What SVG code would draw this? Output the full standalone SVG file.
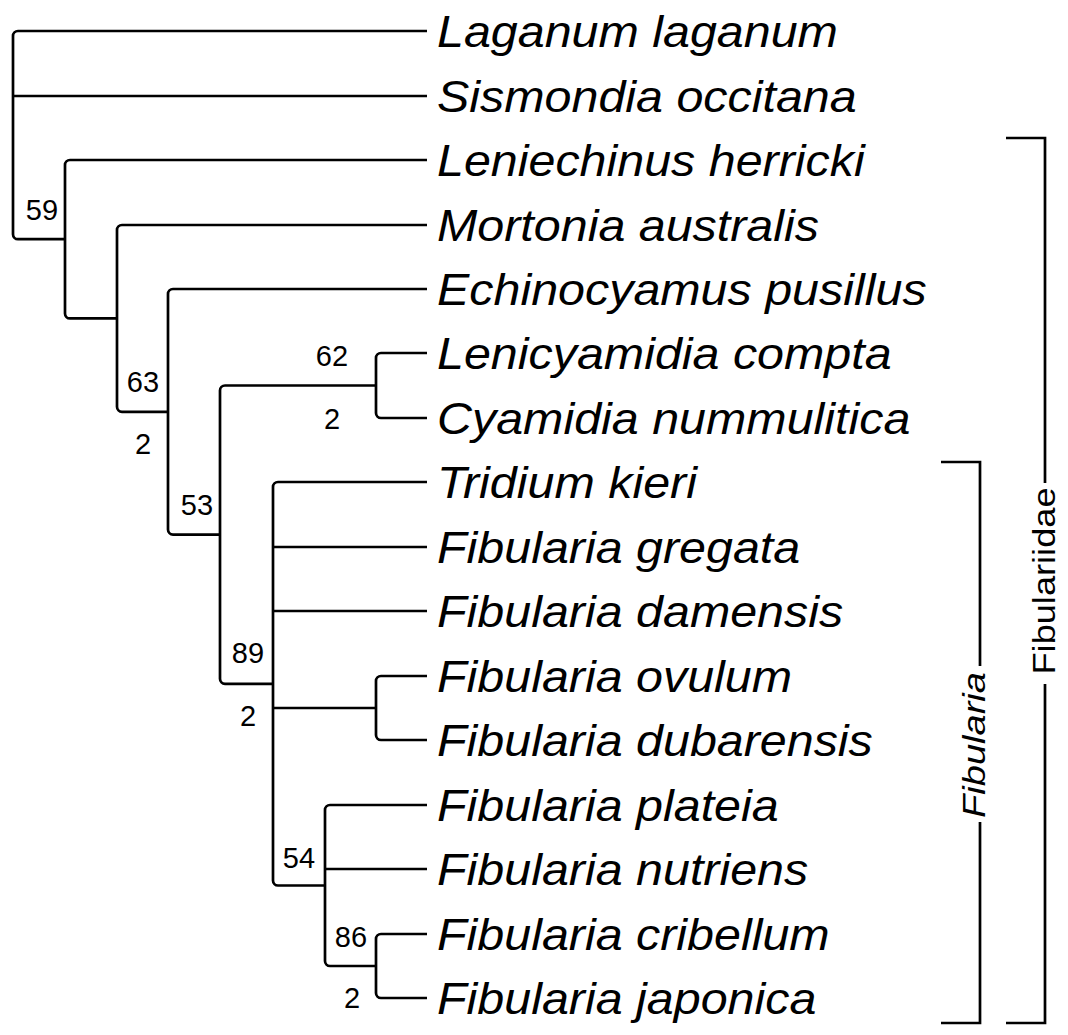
<svg xmlns="http://www.w3.org/2000/svg" width="1068" height="1035" viewBox="0 0 1068 1035">
<style>
.e{fill:none;stroke:#000;stroke-width:2.7;stroke-linecap:butt;stroke-linejoin:round}
.t{font-family:"Liberation Sans",Arial,sans-serif;font-style:italic;font-size:44px;fill:#000}
.n{font-family:"Liberation Sans",Arial,sans-serif;font-size:29px;fill:#000;text-anchor:middle}
.b{fill:none;stroke:#000;stroke-width:2.7}
.bl{font-family:"Liberation Sans",Arial,sans-serif;font-size:32px;fill:#000;text-anchor:middle}
</style>
<rect width="1068" height="1035" fill="#fff"/>
<g id="connectors">
<path class="e" d="M427,31 H18 A5,5 0 0 0 13,36 V234.2 A5,5 0 0 0 18,239.2 H65"/>
<path class="e" d="M13,96 H427"/>
<path class="e" d="M427,160 H70 A5,5 0 0 0 65,165 V313.4 A5,5 0 0 0 70,318.4 H117"/>
<path class="e" d="M427,225 H122 A5,5 0 0 0 117,230 V406.8 A5,5 0 0 0 122,411.8 H168"/>
<path class="e" d="M427,289 H173 A5,5 0 0 0 168,294 V529.6 A5,5 0 0 0 173,534.6 H220"/>
<path class="e" d="M376,385.5 H225 A5,5 0 0 0 220,390.5 V678.8 A5,5 0 0 0 225,683.8 H273"/>
<path class="e" d="M427,353 H381 A5,5 0 0 0 376,358 V413 A5,5 0 0 0 381,418 H427"/>
<path class="e" d="M427,482 H278 A5,5 0 0 0 273,487 V880.5 A5,5 0 0 0 278,885.5 H325"/>
<path class="e" d="M273,547 H427"/>
<path class="e" d="M273,611 H427"/>
<path class="e" d="M273,708 H376"/>
<path class="e" d="M427,676 H381 A5,5 0 0 0 376,681 V735 A5,5 0 0 0 381,740 H427"/>
<path class="e" d="M427,805 H330 A5,5 0 0 0 325,810 V961 A5,5 0 0 0 330,966 H376"/>
<path class="e" d="M325,869 H427"/>
<path class="e" d="M427,934 H381 A5,5 0 0 0 376,939 V993 A5,5 0 0 0 381,998 H427"/>
</g>
<g transform="translate(437 0) scale(1.1 1)">
<g id="laganum-laganum"><text class="t" x="0" y="47">Laganum laganum</text></g>
<g id="sismondia-occitana"><text class="t" x="0" y="112">Sismondia occitana</text></g>
<g id="leniechinus-herricki"><text class="t" x="0" y="176">Leniechinus herricki</text></g>
<g id="mortonia-australis"><text class="t" x="0" y="241">Mortonia australis</text></g>
<g id="echinocyamus-pusillus"><text class="t" x="0" y="305">Echinocyamus pusillus</text></g>
<g id="lenicyamidia-compta"><text class="t" x="0" y="369">Lenicyamidia compta</text></g>
<g id="cyamidia-nummulitica"><text class="t" x="0" y="434">Cyamidia nummulitica</text></g>
<g id="tridium-kieri"><text class="t" x="0" y="498">Tridium kieri</text></g>
<g id="fibularia-gregata"><text class="t" x="0" y="563">Fibularia gregata</text></g>
<g id="fibularia-damensis"><text class="t" x="0" y="627">Fibularia damensis</text></g>
<g id="fibularia-ovulum"><text class="t" x="0" y="692">Fibularia ovulum</text></g>
<g id="fibularia-dubarensis"><text class="t" x="0" y="756">Fibularia dubarensis</text></g>
<g id="fibularia-plateia"><text class="t" x="0" y="821">Fibularia plateia</text></g>
<g id="fibularia-nutriens"><text class="t" x="0" y="885">Fibularia nutriens</text></g>
<g id="fibularia-cribellum"><text class="t" x="0" y="950">Fibularia cribellum</text></g>
<g id="fibularia-japonica"><text class="t" x="0" y="1014">Fibularia japonica</text></g>
</g>
<g id="support-59"><text class="n" x="42" y="220">59</text></g>
<g id="support-63"><text class="n" x="143" y="392">63</text><text class="n" x="143" y="454">2</text></g>
<g id="support-53"><text class="n" x="197" y="515">53</text></g>
<g id="support-62"><text class="n" x="332" y="366">62</text><text class="n" x="332" y="429">2</text></g>
<g id="support-89"><text class="n" x="248" y="663">89</text><text class="n" x="248" y="726">2</text></g>
<g id="support-54"><text class="n" x="299" y="868">54</text></g>
<g id="support-86"><text class="n" x="351" y="947">86</text><text class="n" x="352" y="1008">2</text></g>
<g id="bracket-fibularia">
<path class="b" d="M941,462 H980 V666 M980,822 V1023 H941"/>
<text class="bl" font-style="italic" transform="translate(985 745) rotate(-90)" textLength="146" lengthAdjust="spacingAndGlyphs">Fibularia</text>
</g>
<g id="bracket-fibulariidae">
<path class="b" d="M1006,138 H1045 V483 M1045,684 V1023 H1006"/>
<text class="bl" transform="translate(1055 581) rotate(-90)" textLength="187" lengthAdjust="spacingAndGlyphs">Fibulariidae</text>
</g>
</svg>
